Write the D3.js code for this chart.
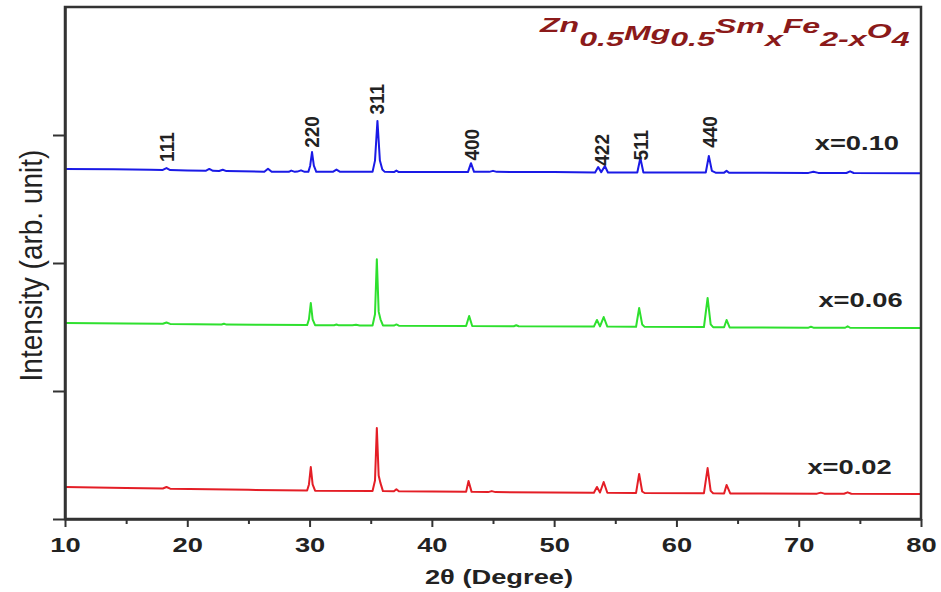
<!DOCTYPE html>
<html>
<head>
<meta charset="utf-8">
<script src="https://cdn.jsdelivr.net/npm/d3@7"></script>
<style>
  body { margin: 0; background: #fff; }
  svg { display: block; font-family: "Liberation Sans", Arial, sans-serif; }
</style>
</head>
<body>
<div id="chart"></div>
<script>
// XRD patterns, [2theta, intensity (arb.)]
const seriesNames = ["x=0.10", "x=0.06", "x=0.02"];
const seriesColors = ["#1a1ae6", "#2ee02e", "#e41e26"];

const blueData = [
  [10, 2.735], [14, 2.732], [17, 2.728], [18.0, 2.727], [18.3, 2.742], [18.6, 2.726],
  [20, 2.722], [21.5, 2.72], [21.8, 2.735], [22.1, 2.72], [22.6, 2.719], [22.9, 2.728], [23.2, 2.718],
  [26.3, 2.713], [26.6, 2.737], [26.9, 2.712], [28.3, 2.712], [28.5, 2.722], [28.8, 2.712],
  [29.0, 2.714], [29.3, 2.724], [29.6, 2.712], [29.9, 2.712], [30.05, 2.76], [30.2, 2.867],
  [30.35, 2.76], [30.55, 2.712], [31.9, 2.712], [32.2, 2.73], [32.5, 2.712], [35.15, 2.712],
  [35.35, 2.80], [35.55, 3.11], [35.75, 2.80], [35.95, 2.73], [36.15, 2.712], [36.9, 2.71],
  [37.1, 2.722], [37.3, 2.71], [42.95, 2.71], [43.2, 2.78], [43.45, 2.712], [44.7, 2.712],
  [45.0, 2.72], [45.3, 2.712], [50, 2.71], [53.35, 2.707], [53.6, 2.75], [53.85, 2.71],
  [54.15, 2.758], [54.4, 2.707], [56.8, 2.707], [57.05, 2.82], [57.3, 2.707], [62.4, 2.707],
  [62.65, 2.836], [62.9, 2.72], [63.2, 2.706], [63.9, 2.706], [64.1, 2.72], [64.3, 2.705],
  [70.8, 2.704], [71.2, 2.713], [71.6, 2.704], [73.9, 2.703], [74.2, 2.716], [74.5, 2.703],
  [80, 2.702]
];

const greenData = [
  [10, 1.531], [15, 1.527], [18.0, 1.525], [18.3, 1.535], [18.6, 1.524], [22.8, 1.52],
  [23.0, 1.526], [23.2, 1.519], [26, 1.517], [29.8, 1.515], [29.95, 1.56], [30.1, 1.6875],
  [30.25, 1.56], [30.45, 1.514], [32.0, 1.514], [32.2, 1.52], [32.4, 1.513], [33.5, 1.513],
  [33.8, 1.518], [34.1, 1.512], [35.15, 1.512], [35.35, 1.60], [35.5, 2.03], [35.65, 1.62],
  [35.8, 1.56], [36.0, 1.512], [36.9, 1.511], [37.1, 1.52], [37.3, 1.51], [42.8, 1.508],
  [43.05, 1.586], [43.3, 1.508], [46.7, 1.506], [46.9, 1.514], [47.1, 1.506], [53.25, 1.503],
  [53.5, 1.555], [53.75, 1.505], [54.05, 1.578], [54.35, 1.503], [56.7, 1.502], [56.95, 1.648],
  [57.2, 1.52], [57.4, 1.501], [62.25, 1.5], [62.55, 1.727], [62.8, 1.52], [63.0, 1.499],
  [63.9, 1.498], [64.1, 1.555], [64.35, 1.497], [70.8, 1.495], [71.0, 1.502], [71.2, 1.495],
  [73.8, 1.494], [74.0, 1.506], [74.2, 1.494], [80, 1.492]
];

const redData = [
  [10, 0.25], [15, 0.243], [18.0, 0.238], [18.3, 0.25], [18.6, 0.237], [25, 0.228],
  [29.8, 0.222], [29.95, 0.27], [30.1, 0.406], [30.25, 0.27], [30.45, 0.221], [35.15, 0.218],
  [35.35, 0.30], [35.5, 0.711], [35.65, 0.34], [35.8, 0.28], [36.0, 0.218], [36.9, 0.216],
  [37.1, 0.232], [37.3, 0.216], [42.8, 0.212], [43.0, 0.297], [43.25, 0.212], [44.6, 0.21],
  [44.9, 0.218], [45.2, 0.21], [53.25, 0.205], [53.5, 0.25], [53.75, 0.207], [54.05, 0.289],
  [54.35, 0.205], [56.7, 0.204], [56.95, 0.352], [57.2, 0.215], [57.4, 0.203], [62.25, 0.202],
  [62.55, 0.398], [62.8, 0.22], [63.0, 0.201], [63.9, 0.2], [64.1, 0.266], [64.4, 0.2],
  [71.5, 0.198], [71.8, 0.206], [72.1, 0.198], [73.7, 0.197], [74.0, 0.208], [74.3, 0.197],
  [80, 0.195]
];

// (hkl) labels over the top pattern: text, 2theta, intensity at the label foot
const hklLabels = ["111", "220", "311", "400", "422", "511", "440"];
const hklTheta = [18.3, 30.2, 35.5, 43.25, 53.9, 57.1, 62.7];
const hklFoot = [2.79, 2.90, 3.16, 2.80, 2.76, 2.80, 2.90];

// sample labels: right end 2theta, intensity at text centre
const sampleLabelTheta = [78.2, 78.5, 77.6];
const sampleLabelY = [2.94, 1.71, 0.41];

const xTicks = [10, 20, 30, 40, 50, 60, 70, 80];
const xMinorTicks = [15, 25, 35, 45, 55, 65, 75];
const yTicks = [0, 1, 2, 3];

const width = 941, height = 592;
const margin = { top: 7, right: 20, bottom: 73, left: 65 };
const stretch = 1.3;   // the figure is widened, text looks wide

const svg = d3.select("#chart").append("svg")
  .attr("width", width)
  .attr("height", height);

const x = d3.scaleLinear().domain([10, 80]).range([margin.left, width - margin.right]);
const y = d3.scaleLinear().domain([0, 4]).range([height - margin.bottom, margin.top]);

const line = d3.line().x(d => x(d[0])).y(d => y(d[1]));

// patterns
[blueData, greenData, redData].forEach((data, i) => {
  svg.append("path")
    .datum(data)
    .attr("fill", "none")
    .attr("stroke", seriesColors[i])
    .attr("stroke-width", 2)
    .attr("stroke-linejoin", "round")
    .attr("d", line);
});

// frame
svg.append("rect")
  .attr("x", x(10)).attr("y", y(4))
  .attr("width", x(80) - x(10)).attr("height", y(0) - y(4))
  .attr("fill", "none").attr("stroke", "#333").attr("stroke-width", 2.5);

// axes
const xAxis = svg.append("g")
  .attr("transform", `translate(0,${y(0)})`)
  .call(d3.axisBottom(x).tickValues(xTicks).tickSize(8).tickSizeOuter(0).tickPadding(10));
xAxis.select(".domain").attr("stroke", "#333").attr("stroke-width", 2.5);
xAxis.selectAll(".tick line").attr("stroke", "#333").attr("stroke-width", 2);
xAxis.selectAll("text")
  .attr("font-size", 21).attr("font-weight", "bold").attr("fill", "#222")
  .attr("transform", `scale(${stretch},1)`);

svg.append("g")
  .attr("transform", `translate(0,${y(0)})`)
  .call(d3.axisBottom(x).tickValues(xMinorTicks).tickSize(5).tickFormat(""))
  .call(g => g.select(".domain").remove())
  .selectAll(".tick line").attr("stroke", "#333").attr("stroke-width", 2);

const yAxis = svg.append("g")
  .attr("transform", `translate(${x(10)},0)`)
  .call(d3.axisLeft(y).tickValues(yTicks).tickSize(12).tickSizeOuter(0).tickFormat(""));
yAxis.select(".domain").attr("stroke", "#333").attr("stroke-width", 2.5);
yAxis.selectAll(".tick line").attr("stroke", "#333").attr("stroke-width", 2);

// axis titles
svg.append("text")
  .attr("transform", `translate(${x(45) + 6},${height - 8}) scale(${stretch},1)`)
  .attr("text-anchor", "middle")
  .attr("font-size", 21).attr("font-weight", "bold").attr("fill", "#222")
  .text("2θ (Degree)");

svg.append("text")
  .attr("transform", `translate(31,${y(1.98)}) scale(1.1,1) rotate(-90)`)
  .attr("text-anchor", "middle")
  .attr("dominant-baseline", "central")
  .attr("font-size", 28).attr("fill", "#222")
  .text("Intensity (arb. unit)");

// hkl labels
svg.append("g").selectAll("text")
  .data(hklLabels)
  .join("text")
  .attr("transform", (d, i) => `translate(${x(hklTheta[i])},${y(hklFoot[i])}) scale(1.1,1) rotate(-90)`)
  .attr("dominant-baseline", "central")
  .attr("font-size", 19).attr("font-weight", "bold").attr("fill", "#222")
  .text(d => d);

// sample labels
svg.append("g").selectAll("text")
  .data(seriesNames)
  .join("text")
  .attr("transform", (d, i) => `translate(${x(sampleLabelTheta[i])},${y(sampleLabelY[i])}) scale(${stretch},1)`)
  .attr("text-anchor", "end")
  .attr("dominant-baseline", "central")
  .attr("font-size", 21).attr("font-weight", "bold").attr("fill", "#222")
  .text(d => d);

// compound formula
const title = svg.append("text")
  .attr("transform", `translate(540,32) scale(1.53,1)`)
  .attr("font-size", 21).attr("font-weight", "bold").attr("font-style", "italic")
  .attr("fill", "#8b1a1a");
const parts = [["Zn", 0], ["0.5", 14], ["Mg", -6], ["0.5", 6], ["Sm", -13], ["x", 13], ["Fe", -13], ["2-x", 13], ["O", -8], ["4", 8]];
parts.forEach(p => title.append("tspan").attr("dy", p[1]).text(p[0]));
</script>
</body>
</html>
